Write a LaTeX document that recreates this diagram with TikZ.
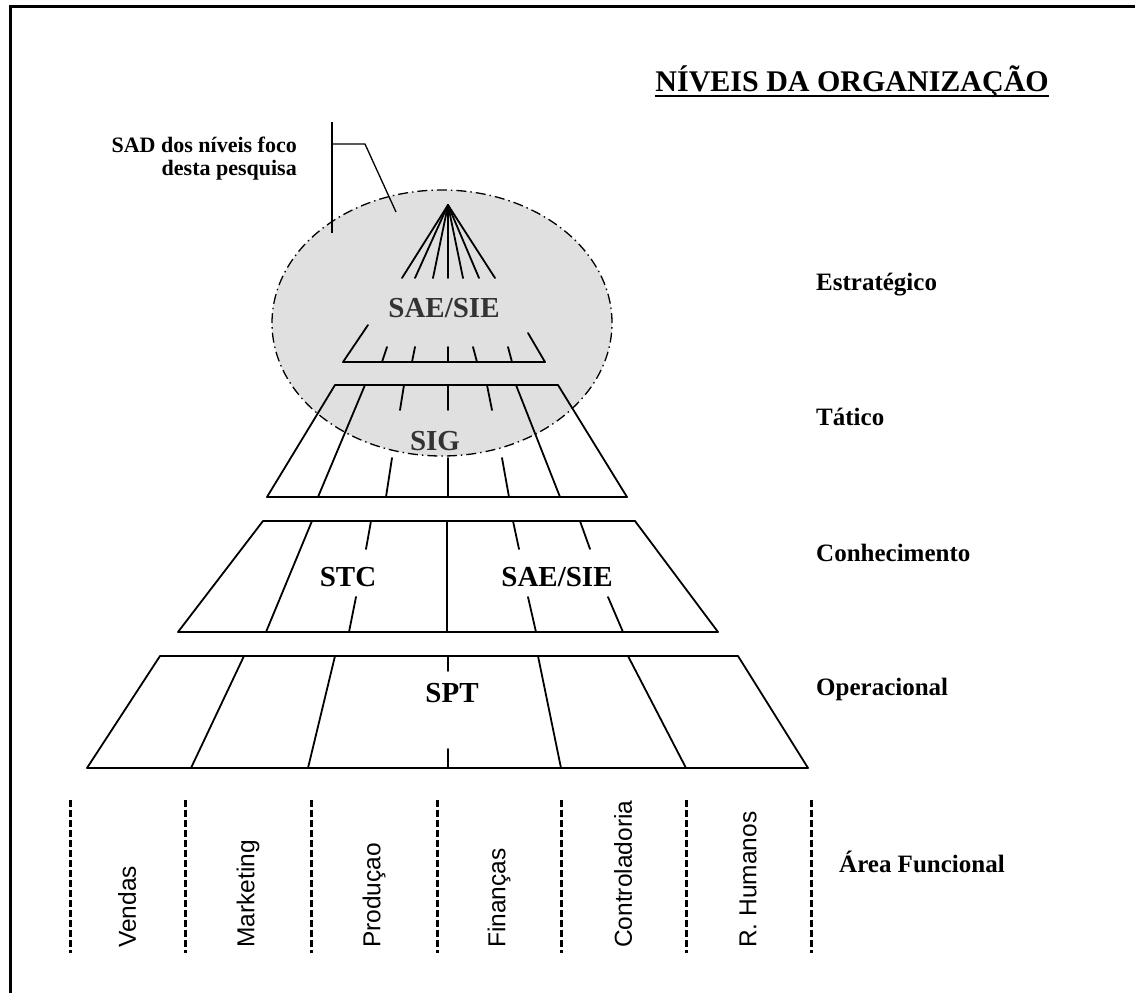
\documentclass[tikz,border=0pt]{standalone}
\usepackage{fontspec}
\usetikzlibrary{shapes.geometric}
\setmainfont{Liberation Serif}
\newfontfamily\arialfont{Liberation Sans}
\begin{document}
\begin{tikzpicture}[x=1pt,y=-1pt,
  edge/.style={line width=1.8pt, line cap=round, line join=round},
  frame/.style={line width=3pt},
  focus/.style={line width=1.3pt, dash pattern=on 10pt off 4pt on 1.5pt off 4pt, fill=black!12},
  sysname/.style={font=\fontsize{29}{29}\selectfont\bfseries, inner sep=0pt, anchor=base},
  levelname/.style={font=\fontsize{25}{25}\selectfont\bfseries, anchor=base west, inner sep=0pt},
  areaname/.style={font=\arialfont\fontsize{24.5}{24.5}\selectfont, rotate=90, anchor=west, inner sep=0pt},
  divider/.style={line width=3pt, dash pattern=on 7pt off 3pt},
  note/.style={font=\fontsize{22}{22}\selectfont\bfseries, anchor=base east, inner sep=0pt}]
\useasboundingbox (0,0) rectangle (1135,993);

% outer frame (left and top edges)
\draw[frame] (10,993) -- (10,6) -- (1135,6);

% title
\node[font=\fontsize{30}{30}\selectfont\bfseries, anchor=base east, inner sep=0pt] (title) at (1049,91) {NÍVEIS DA ORGANIZAÇÃO};
\draw[line width=2.5pt] ([yshift=-5pt]title.base west) -- ([yshift=-5pt]title.base east);

% focus region of the research
\node[focus, ellipse, draw, minimum width=340pt, minimum height=266pt, inner sep=0pt] (focus) at (442,323) {};

% callout
\node[note] (note1) at (297,152) {SAD dos níveis foco};
\node[note] (note2) at (297,175) {desta pesquisa};
\coordinate (brTop) at (332,122);
\coordinate (brBot) at (332,233);
\coordinate (brArm) at (365,144);
\coordinate (brTip) at (396,212);
\draw[line width=1.3pt] (brTop) -- (brBot);
\draw[line width=1.3pt] (332,144) -- (brArm) -- (brTip);

% strategic level
\coordinate (apex) at (448,205);
\foreach \x in {402,415,433,448,463,479,495}
  \draw[edge] (apex) -- (\x,278);
\draw[edge] (368,325) -- (343,362) -- (545,362) -- (528,333);
\draw[edge] (387,347) -- (382,362);
\draw[edge] (415,347) -- (412,362);
\draw[edge] (448,347) -- (448,362);
\draw[edge] (473,347) -- (477,362);
\draw[edge] (508,347) -- (512,362);
\node[sysname, text=black!80] (sae1) at (444,317) {SAE/SIE};

% tactical level
\draw[edge] (267,497) -- (335,385) -- (558,385) -- (627,497) -- cycle;
\draw[edge] (365,385) -- (318,497);
\draw[edge] (516,385) -- (560,497);
\draw[edge] (404,385) -- (400,410);
\draw[edge] (392,458) -- (386,497);
\draw[edge] (448,385) -- (448,410);
\draw[edge] (448,458) -- (448,497);
\draw[edge] (487,385) -- (492,410);
\draw[edge] (502,458) -- (509,497);
\node[sysname, text=black!80] (sig) at (435,450) {SIG};

% knowledge level
\draw[edge] (178,632) -- (263,521) -- (635,521) -- (718,632) -- cycle;
\draw[edge] (312,521) -- (266,632);
\draw[edge] (447,521) -- (447,632);
\draw[edge] (371,521) -- (366,549);
\draw[edge] (356,597) -- (349,632);
\draw[edge] (513,521) -- (519,549);
\draw[edge] (528,597) -- (536,632);
\draw[edge] (580,521) -- (590,549);
\draw[edge] (608,597) -- (623,632);
\node[sysname] (stc) at (348,586) {STC};
\node[sysname] (sae2) at (557,586) {SAE/SIE};

% operational level
\draw[edge] (87,768) -- (160,656) -- (738,656) -- (808,768) -- cycle;
\draw[edge] (244,656) -- (191,768);
\draw[edge] (335,656) -- (308,768);
\draw[edge] (538,656) -- (561,768);
\draw[edge] (628,656) -- (686,768);
\draw[edge] (448,656) -- (448,671);
\draw[edge] (448,749) -- (448,768);
\node[sysname] (spt) at (452,702) {SPT};

% level names
\node[levelname] (lv1) at (816,290) {Estratégico};
\node[levelname] (lv2) at (816,425) {Tático};
\node[levelname] (lv3) at (816,561) {Conhecimento};
\node[levelname] (lv4) at (816,695) {Operacional};
\node[levelname] (lv5) at (839,872) {Área Funcional};

% functional areas
\foreach \x in {70,185,311,437,561,686,811}
  \draw[divider] (\x,800) -- (\x,953);
\node[areaname] (a1) at (127,948) {Vendas};
\node[areaname] (a2) at (248,948) {Marketing};
\node[areaname] (a3) at (374,948) {Produçao};
\node[areaname] (a4) at (499,948) {Finanças};
\node[areaname] (a5) at (623,948) {Controladoria};
\node[areaname] (a6) at (748,948) {R. Humanos};
\end{tikzpicture}
\end{document}
